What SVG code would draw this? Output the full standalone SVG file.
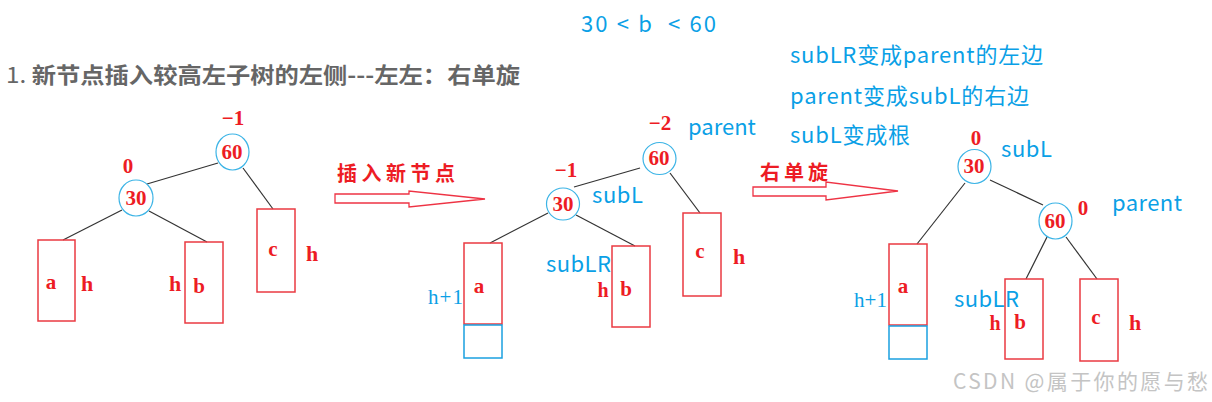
<svg xmlns="http://www.w3.org/2000/svg" width="1212" height="402" viewBox="0 0 1212 402">
<style>
.bg{fill:#ffffff}
.title{font-family:"Noto Sans CJK SC","Liberation Sans",sans-serif;font-weight:bold;font-size:22px;fill:#666666}
.num{font-family:"Liberation Serif","DejaVu Serif",serif;font-weight:bold;fill:#ed1c24}
.blue{font-family:"Noto Sans CJK SC","Liberation Sans",sans-serif;font-size:22px;fill:#0aa0e6}
.bser{font-family:"Liberation Serif","DejaVu Serif",serif;font-size:21px;fill:#0aa0e6}
.cn{font-family:"Noto Sans CJK SC",sans-serif;font-weight:bold;font-size:20px;fill:#ed1c24}
.wm{font-family:"Noto Sans CJK SC","Liberation Sans",sans-serif;font-size:21px;fill:#c4c4c4}
.circ{fill:#ffffff;stroke:#3cb4e6;stroke-width:1.2}
.box{fill:none;stroke:#ea3a42;stroke-width:1.5}
.bbox{fill:none;stroke:#1aa0e0;stroke-width:1.5}
.edge{stroke:#333333;stroke-width:1.2;fill:none}
.arrow{fill:#ffffff;stroke:#ee3344;stroke-width:1.3}
</style>
<rect class="bg" x="0" y="0" width="1212" height="402"/>

<g id="texts">
<text class="title" x="6" y="83" textLength="514" lengthAdjust="spacingAndGlyphs"><tspan font-weight="normal">1.</tspan> 新节点插入较高左子树的左侧---左左：右单旋</text>
<text class="blue" x="581" y="32" textLength="135" xml:space="preserve">30 &lt; b  &lt; 60</text>
<text class="blue" x="790" y="63" textLength="253">subLR变成parent的左边</text>
<text class="blue" x="790" y="104" textLength="239">parent变成subL的右边</text>
<text class="blue" x="790" y="143" textLength="120">subL变成根</text>
<text class="wm" x="953" y="389" textLength="255">CSDN @属于你的愿与愁</text>
</g>

<g id="connectors">
<path class="edge" d="M218 163 L147 184"/>
<path class="edge" d="M243 168 L273 209"/>
<path class="edge" d="M122 210 L63 240"/>
<path class="edge" d="M149 211 L207 242"/>
<path class="edge" d="M640 168 L574 187"/>
<path class="edge" d="M670 173 L700 213"/>
<path class="edge" d="M548 213 L490 243"/>
<path class="edge" d="M576 215 L635 246"/>
<path class="edge" d="M990 180 L1043 205"/>
<path class="edge" d="M965 183 L917 244"/>
<path class="edge" d="M1047 237 L1026 279"/>
<path class="edge" d="M1066 237 L1097 279"/>
</g>

<g id="arrow-insert">
<polygon class="arrow" points="335,194 409,194 409,191 485,199 409,207 409,203 335,203"/>
<text class="cn" x="337" y="181" textLength="118">插入新节点</text>
</g>
<g id="arrow-rotate">
<polygon class="arrow" points="753,187 826,187 826,182 898,191 826,200 826,196 753,196"/>
<text class="cn" x="760" y="180" textLength="68">右单旋</text>
</g>

<!-- Tree 1 -->
<g id="t1-n60">
<ellipse class="circ" cx="232.5" cy="152" rx="16.5" ry="18"/>
<text class="num" x="232" y="159" font-size="21" text-anchor="middle">60</text>
<text class="num" x="233" y="125" font-size="21" text-anchor="middle">−1</text>
</g>
<g id="t1-n30">
<ellipse class="circ" cx="136" cy="198" rx="17" ry="18"/>
<text class="num" x="136" y="205" font-size="21" text-anchor="middle">30</text>
<text class="num" x="128" y="173" font-size="21" text-anchor="middle">0</text>
</g>
<g id="t1-a">
<rect class="box" x="38" y="240" width="37" height="81"/>
<text class="num" x="51" y="289" font-size="21" text-anchor="middle">a</text>
<text class="num" x="87" y="291" font-size="22" text-anchor="middle">h</text>
</g>
<g id="t1-b">
<rect class="box" x="185" y="242" width="38" height="81"/>
<text class="num" x="199" y="293" font-size="21" text-anchor="middle">b</text>
<text class="num" x="175" y="291" font-size="22" text-anchor="middle">h</text>
</g>
<g id="t1-c">
<rect class="box" x="257" y="209" width="38" height="83"/>
<text class="num" x="273" y="256" font-size="21" text-anchor="middle">c</text>
<text class="num" x="312" y="261" font-size="22" text-anchor="middle">h</text>
</g>

<!-- Tree 2 -->
<g id="t2-n60">
<ellipse class="circ" cx="659.5" cy="158.5" rx="16.5" ry="16"/>
<text class="num" x="659" y="165" font-size="21" text-anchor="middle">60</text>
<text class="num" x="660" y="130" font-size="21" text-anchor="middle">−2</text>
<text class="blue" x="688" y="135">parent</text>
</g>
<g id="t2-n30">
<ellipse class="circ" cx="563" cy="204" rx="16.5" ry="16"/>
<text class="num" x="563" y="211" font-size="21" text-anchor="middle">30</text>
<text class="num" x="566" y="177" font-size="21" text-anchor="middle">−1</text>
<text class="blue" x="592" y="203" textLength="51">subL</text>
</g>
<g id="t2-a">
<rect class="box" x="464" y="243" width="38" height="81"/>
<rect class="bbox" x="464" y="325" width="38" height="33"/>
<text class="num" x="479" y="293" font-size="21" text-anchor="middle">a</text>
<text class="bser" x="428" y="304" textLength="35">h+1</text>
</g>
<g id="t2-b">
<rect class="box" x="612" y="246" width="38" height="81"/>
<text class="num" x="626" y="296" font-size="21" text-anchor="middle">b</text>
<text class="num" x="603" y="297" font-size="20" text-anchor="middle">h</text>
<text class="blue" x="546" y="272" textLength="65">subLR</text>
</g>
<g id="t2-c">
<rect class="box" x="683" y="213" width="38" height="83"/>
<text class="num" x="700" y="258" font-size="21" text-anchor="middle">c</text>
<text class="num" x="739" y="264" font-size="22" text-anchor="middle">h</text>
</g>

<!-- Tree 3 -->
<g id="t3-n30">
<ellipse class="circ" cx="974.5" cy="166.5" rx="16.5" ry="17"/>
<text class="num" x="974" y="173" font-size="21" text-anchor="middle">30</text>
<text class="num" x="976" y="145" font-size="21" text-anchor="middle">0</text>
<text class="blue" x="1001" y="157" textLength="51">subL</text>
</g>
<g id="t3-n60">
<ellipse class="circ" cx="1055.5" cy="221" rx="16.5" ry="18"/>
<text class="num" x="1055" y="228" font-size="21" text-anchor="middle">60</text>
<text class="num" x="1083" y="215" font-size="21" text-anchor="middle">0</text>
<text class="blue" x="1112" y="211" textLength="70">parent</text>
</g>
<g id="t3-a">
<rect class="box" x="889" y="244" width="38" height="81"/>
<rect class="bbox" x="889" y="326" width="38" height="33"/>
<text class="num" x="903" y="293" font-size="21" text-anchor="middle">a</text>
<text class="bser" x="854" y="307" textLength="33">h+1</text>
</g>
<g id="t3-b">
<rect class="box" x="1005" y="279" width="38" height="80"/>
<text class="num" x="1020" y="329" font-size="21" text-anchor="middle">b</text>
<text class="num" x="995" y="330" font-size="20" text-anchor="middle">h</text>
<text class="blue" x="954" y="307" textLength="65">subLR</text>
</g>
<g id="t3-c">
<rect class="box" x="1080" y="279" width="38" height="82"/>
<text class="num" x="1096" y="324" font-size="21" text-anchor="middle">c</text>
<text class="num" x="1135" y="330" font-size="22" text-anchor="middle">h</text>
</g>
</svg>
